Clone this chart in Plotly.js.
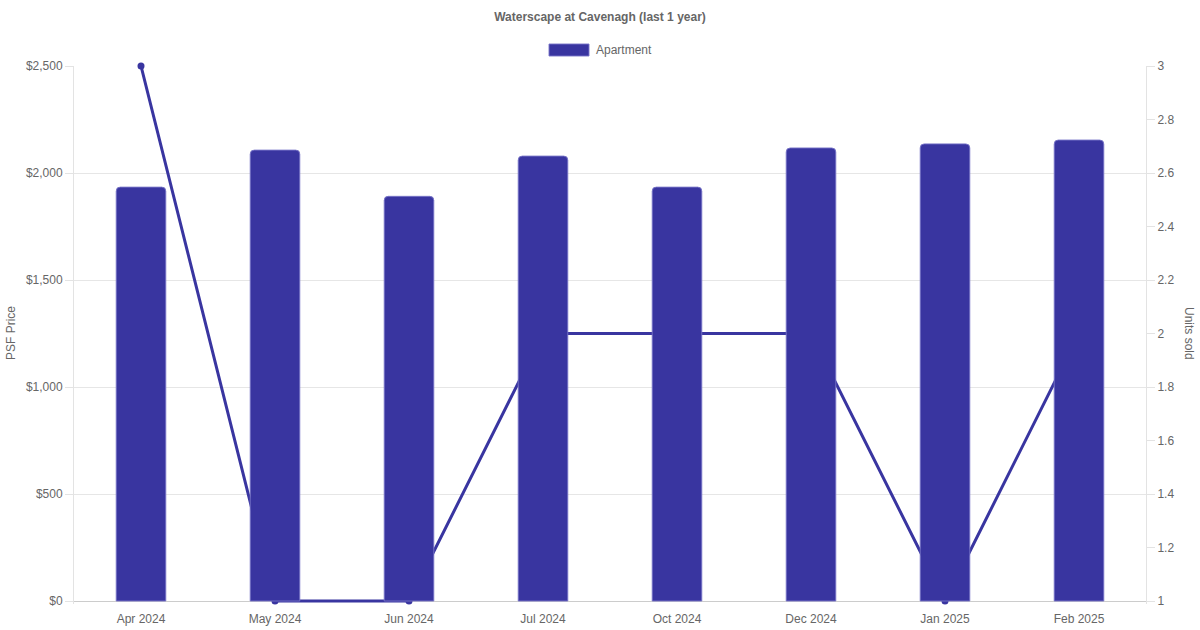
<!DOCTYPE html>
<html>
<head>
<meta charset="utf-8">
<script src="https://cdn.plot.ly/plotly-3.0.1.min.js"></script>
<style>html,body{margin:0;padding:0;background:#fff;}#chart{width:1200px;height:630px;}</style>
</head>
<body>
<div id="chart"></div>
<script>
const months = ["Apr 2024","May 2024","Jun 2024","Jul 2024","Oct 2024","Dec 2024","Jan 2025","Feb 2025"];
const psfPrice = [1934, 2107, 1891, 2079, 1934, 2117, 2136, 2154];
const unitsSold = [3, 1, 1, 2, 2, 2, 1, 2];
const seriesName = "Apartment";
const titleText = "Waterscape at Cavenagh (last 1 year)";

const color = "#3935a0";
const font = "Liberation Sans, Arial, Helvetica, sans-serif";

// plot area: top 66px, zero line 601px, extra 3px below so the line at the bottom is not clipped
const pad = 3, spanPx = 535;

const traces = [
  {
    type: "scatter", mode: "lines+markers",
    x: months, y: unitsSold, yaxis: "y",
    line: {color: color, width: 3},
    marker: {color: color, size: 7},
    cliponaxis: false, showlegend: false, hoverinfo: "x+y"
  },
  {
    type: "bar", x: months, y: psfPrice, yaxis: "y2", name: seriesName,
    width: 0.37,
    marker: {color: color, line: {color: "rgba(120,116,200,0.9)", width: 1}, cornerradius: 4},
    showlegend: false
  }
];

const layout = {
  width: 1200, height: 630,
  margin: {l: 74, r: 54, t: 66, b: 29 - pad},
  paper_bgcolor: "#fff", plot_bgcolor: "#fff",
  font: {family: font, size: 12, color: "#666"},
  showlegend: false,
  title: {text: titleText, font: {family: font, size: 12, color: "#666", weight: "bold"},
          x: 0.5, xanchor: "center", y: 1 - 17/630, yanchor: "middle", xref: "container", yref: "container"},
  xaxis: {
    type: "category", range: [-0.5, 7.5],
    showgrid: false, zeroline: false,
    showline: false,
    ticks: "outside", ticklen: 7 - pad, tickcolor: "rgba(0,0,0,0)",
    tickfont: {size: 12, color: "#666"}
  },
  yaxis: {
    side: "right", range: [1 - 2 * pad / spanPx, 3], dtick: 0.2, tick0: 1,
    showgrid: false, zeroline: false,
    showline: true, linecolor: "#e3e3e3", linewidth: 1, layer: "below traces",
    ticks: "outside", ticklen: 8, tickcolor: "#e3e3e3",
    tickfont: {size: 12, color: "#666"}
  },
  yaxis2: {
    side: "left", overlaying: "y", range: [-2500 * pad / spanPx, 2500], dtick: 500, tick0: 0,
    tickprefix: "$", tickformat: ",",
    showgrid: true, gridcolor: "#e6e6e6", gridwidth: 1,
    zeroline: true, zerolinecolor: "#cccccc", zerolinewidth: 1,
    showline: true, linecolor: "#e3e3e3", linewidth: 1, layer: "below traces",
    ticks: "outside", ticklen: 8, tickcolor: "#e3e3e3",
    tickfont: {size: 12, color: "#666"}
  },
  shapes: [
    {type: "rect", xref: "paper", yref: "paper",
     x0: (549-74)/1072, x1: (589-74)/1072,
     y0: (601+pad-56)/(spanPx+pad), y1: (601+pad-44)/(spanPx+pad),
     fillcolor: color, line: {color: "rgba(120,116,200,0.9)", width: 1}}
  ],
  annotations: [
    {text: seriesName, xref: "paper", yref: "paper", x: (594-74)/1072, y: (601+pad-50)/(spanPx+pad),
     xanchor: "left", yanchor: "middle", showarrow: false, font: {size: 12, color: "#666"}},
    {text: "PSF Price", xref: "paper", yref: "paper", x: (11-74)/1072, y: (601+pad-333)/(spanPx+pad),
     xanchor: "center", yanchor: "middle", textangle: -90, showarrow: false, font: {size: 12, color: "#666"}},
    {text: "Units sold", xref: "paper", yref: "paper", x: (1189-74)/1072, y: (601+pad-333)/(spanPx+pad),
     xanchor: "center", yanchor: "middle", textangle: 90, showarrow: false, font: {size: 12, color: "#666"}}
  ]
};

Plotly.newPlot("chart", traces, layout, {displayModeBar: false, responsive: false});
</script>
</body>
</html>
